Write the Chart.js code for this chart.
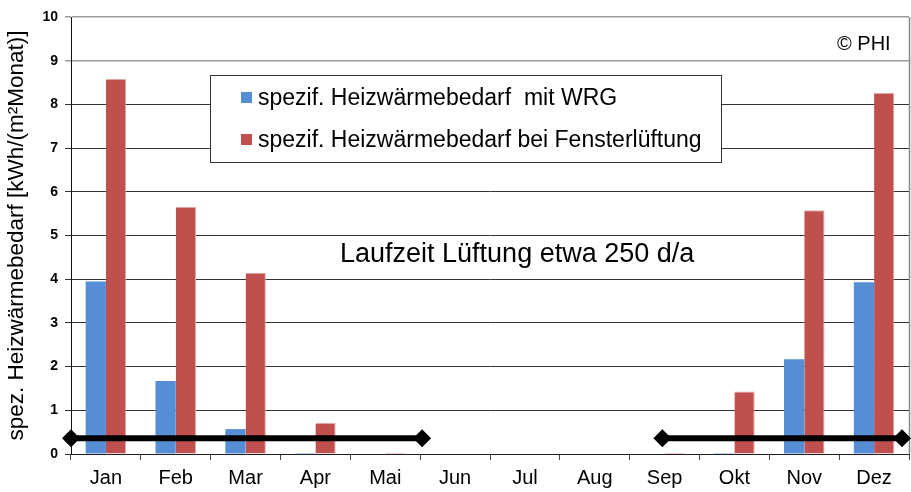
<!DOCTYPE html>
<html>
<head>
<meta charset="utf-8">
<script src="https://cdn.jsdelivr.net/npm/chart.js@4.4.1/dist/chart.umd.min.js"></script>
<style>
html,body{margin:0;padding:0;background:#fff;}
#wrap{position:relative;width:911px;height:492px;}
#wrap canvas{position:absolute;left:0;top:0;}
#c2{pointer-events:none;}
</style>
</head>
<body>
<div id="wrap"><canvas id="c" width="911" height="492"></canvas><canvas id="c2" width="911" height="492"></canvas></div>
<script>
const months = ['Jan','Feb','Mar','Apr','Mai','Jun','Jul','Aug','Sep','Okt','Nov','Dez'];
const withWRG = [3.95,1.67,0.57,0.02,0,0,0,0,0,0.02,2.17,3.93];
const windowVent = [8.58,5.65,4.15,0.71,0.03,0,0,0,0.03,1.43,5.58,8.26];
const runPeriod1 = [{x:0,y:0.36},{x:5.07,y:0.36}];
const runPeriod2 = [{x:8.54,y:0.36},{x:12,y:0.36}];
const yTicks = [0,1,2,3,4,5,6,7,8,9,10];
const labelWRG = 'spezif. Heizwärmebedarf  mit WRG';
const labelWindow = 'spezif. Heizwärmebedarf bei Fensterlüftung';
const yTitle = 'spez. Heizwärmebedarf [kWh/(m²Monat)]';
const runText = 'Laufzeit Lüftung etwa 250 d/a';
const copyText = '© PHI';

const BLUE = '#558ED5', RED = '#C0504D';
const FONT = '"Liberation Sans", Arial, sans-serif';
const PAD = {top:17, right:2, left:0, bottom:0};
const Y_W = 71, X_H = 38;

const overlay = {
  id:'overlay',
  afterDraw(chart){
    const ctx = chart.ctx, a = chart.chartArea;
    ctx.save();
    ctx.strokeStyle = '#888'; ctx.lineWidth = 1.5;
    ctx.beginPath(); ctx.moveTo(a.right+0.5, a.top); ctx.lineTo(a.right+0.5, a.bottom); ctx.stroke();
    const bx = 210, by = 75, bw = 511, bh = 87;
    ctx.fillStyle = '#fff'; ctx.fillRect(bx, by, bw, bh);
    ctx.strokeStyle = '#333'; ctx.lineWidth = 1;
    ctx.strokeRect(bx+0.5, by+0.5, bw, bh);
    const items = [[chart.data.datasets[0].label, BLUE, 98],[chart.data.datasets[1].label, RED, 140]];
    ctx.font = '23px ' + FONT; ctx.textBaseline = 'middle'; ctx.textAlign='left';
    for (const [t,c,y] of items){
      ctx.fillStyle = c; ctx.fillRect(241, y-6, 11, 11);
      ctx.fillStyle = '#000'; ctx.fillText(t, 258, y+1);
    }
    ctx.font = '27px ' + FONT;
    ctx.fillText(runText, 340, 255);
    ctx.font = '20px ' + FONT;
    ctx.fillText(copyText, 837, 44);
    ctx.restore();
  }
};

new Chart(document.getElementById('c'), {
  type:'bar',
  data:{
    labels: months,
    datasets:[
      {label:labelWRG, data:withWRG, backgroundColor:BLUE, barPercentage:1, categoryPercentage:0.58},
      {label:labelWindow, data:windowVent, backgroundColor:RED, borderColor:'#E3A9A7', borderWidth:{top:1,right:1,left:0,bottom:0}, barPercentage:1, categoryPercentage:0.58}
    ]
  },
  options:{
    responsive:false, animation:false,
    layout:{padding:PAD},
    plugins:{legend:{display:false}, tooltip:{enabled:false}},
    scales:{
      x:{
        type:'category',
        grid:{drawOnChartArea:false, drawTicks:true, tickLength:6, color:'#444', offset:true},
        border:{color:'#222', width:1},
        ticks:{color:'#000', font:{family:FONT, size:20}, padding:6},
        afterFit(s){ s.height = X_H; }
      },
      y:{
        min:0, max:10,
        afterBuildTicks(s){ s.ticks = yTicks.map(v=>({value:v})); },
        grid:{color:(c)=> (c.tick && c.tick.value>=9) ? '#999' : '#333', lineWidth:(c)=> (c.tick && c.tick.value>=9) ? 1.5 : 1, tickLength:6},
        border:{color:'#111', width:1},
        ticks:{color:'#000', font:{family:FONT, size:14, weight:'bold'}, padding:7},
        title:{display:true, text:yTitle, color:'#000', font:{family:FONT, size:22.5}, padding:{top:3,bottom:0}},
        afterFit(s){ s.width = Y_W; }
      }
    }
  },
  plugins:[overlay]
});

// Ventilation run-time bars drawn on a transparent chart with identical plot area
const lineStyle = {borderColor:'#000', borderWidth:6, pointStyle:'rectRot', pointRadius:9, pointBackgroundColor:'#000', pointBorderColor:'#000', pointBorderWidth:0, clip:false};
new Chart(document.getElementById('c2'), {
  type:'line',
  data:{datasets:[
    Object.assign({label:'run1', data:runPeriod1}, lineStyle),
    Object.assign({label:'run2', data:runPeriod2}, lineStyle)
  ]},
  options:{
    responsive:false, animation:false,
    layout:{padding:{top:PAD.top, right:PAD.right, left:PAD.left + Y_W, bottom:PAD.bottom + X_H}},
    plugins:{legend:{display:false}, tooltip:{enabled:false}},
    scales:{
      x:{type:'linear', display:false, min:0, max:12},
      y:{type:'linear', display:false, min:0, max:10}
    }
  }
});
</script>
</body>
</html>
